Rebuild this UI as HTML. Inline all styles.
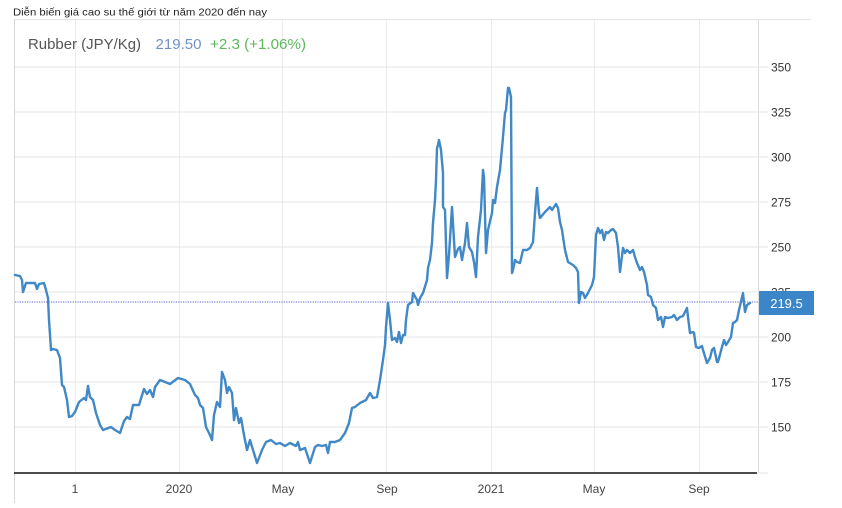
<!DOCTYPE html>
<html><head><meta charset="utf-8">
<style>
html,body{margin:0;padding:0;background:#fff;}
svg{display:block;}
text{font-family:"Liberation Sans","Noto Sans CJK SC",Arial,sans-serif;}
</style></head>
<body>
<svg width="842" height="508" viewBox="0 0 842 508" xmlns="http://www.w3.org/2000/svg">
<rect x="0" y="0" width="842" height="508" fill="#fff"/>
<text x="13" y="15.5" font-size="10.5" fill="#222" textLength="254" lengthAdjust="spacingAndGlyphs">Diễn biến giá cao su thế giới từ năm 2020 đến nay</text>

<!-- frame -->
<line x1="14" y1="19.5" x2="811" y2="19.5" stroke="#e3e3e3" stroke-width="1"/>
<line x1="14.5" y1="19.5" x2="14.5" y2="503" stroke="#d8d8d8" stroke-width="1"/>
<line x1="758.5" y1="19.5" x2="758.5" y2="473" stroke="#dedede" stroke-width="1"/>

<!-- vertical gridlines -->
<g stroke="#ececec" stroke-width="1">
<line x1="75.5" y1="20" x2="75.5" y2="472"/>
<line x1="179.5" y1="20" x2="179.5" y2="472"/>
<line x1="282.5" y1="20" x2="282.5" y2="472"/>
<line x1="386.5" y1="20" x2="386.5" y2="472"/>
<line x1="491.5" y1="20" x2="491.5" y2="472"/>
<line x1="594.5" y1="20" x2="594.5" y2="472"/>
<line x1="699.5" y1="20" x2="699.5" y2="472"/>
</g>
<!-- horizontal gridlines -->
<g stroke="#e6e6e6" stroke-width="1">
<line x1="15" y1="67" x2="768" y2="67"/>
<line x1="15" y1="112" x2="768" y2="112"/>
<line x1="15" y1="157" x2="768" y2="157"/>
<line x1="15" y1="202" x2="768" y2="202"/>
<line x1="15" y1="247" x2="768" y2="247"/>
<line x1="15" y1="292" x2="768" y2="292"/>
<line x1="15" y1="337" x2="768" y2="337"/>
<line x1="15" y1="382" x2="768" y2="382"/>
<line x1="15" y1="427" x2="768" y2="427"/>
<line x1="758" y1="473" x2="768" y2="473"/>
</g>

<!-- header -->
<text x="28" y="49" font-size="15" fill="#555" textLength="113" lengthAdjust="spacingAndGlyphs">Rubber (JPY/Kg)</text>
<text x="155.5" y="49" font-size="15" fill="#7391c8" textLength="46" lengthAdjust="spacingAndGlyphs">219.50</text>
<text x="210" y="49" font-size="15" fill="#5cb85c" textLength="96" lengthAdjust="spacingAndGlyphs">+2.3 (+1.06%)</text>

<!-- y labels -->
<g font-size="12" fill="#333">
<text x="771" y="71.3">350</text>
<text x="771" y="116.3">325</text>
<text x="771" y="161.3">300</text>
<text x="771" y="206.3">275</text>
<text x="771" y="251.3">250</text>
<text x="771" y="296.3">225</text>
<text x="771" y="341.3">200</text>
<text x="771" y="386.3">175</text>
<text x="771" y="431.3">150</text>
</g>

<!-- x labels -->
<g font-size="12" fill="#444" text-anchor="middle">
<text x="75" y="493">1</text>
<text x="179" y="493">2020</text>
<text x="283" y="493">May</text>
<text x="387" y="493">Sep</text>
<text x="491" y="493">2021</text>
<text x="594" y="493">May</text>
<text x="699" y="493">Sep</text>
</g>

<!-- axis -->
<line x1="14" y1="473" x2="757" y2="473" stroke="#111" stroke-width="1.6"/>

<!-- dotted current-value line -->
<line x1="15" y1="302" x2="758" y2="302" stroke="#5c5cc8" stroke-width="1" stroke-dasharray="1.2,1.2"/>

<!-- series -->
<polyline fill="none" stroke="#4088c6" stroke-width="2.4" stroke-linejoin="round" stroke-linecap="round" points="
15,275 20,276 22,280 23,292 26,283 30,283 35,283 37,289 39,284 44,283 46,290 48,298 49,320 51,350 53,349 57,350 60,358 62,385 64,387 67,400 69,417 72,416 75,412 79,402 84,398 86,400 88,386 90,397 93,400 96,413 100,425 103,430 111,427 115,430 120,433 124,421 127,417 130,419 133,405 139,405 144,389 147,394 150,390 153,397 155,387 160,380 165,382 170,384 174,381 178,378 185,380 190,384
195,395 198,398 200,405 203,408 206,427 210,435 212,440 214,415 217,402 220,407 222,372 225,380 227,393 229,387 232,393 234,420 236,408 239,423 241,418 244,435 247,450 250,440 253,450 257,463 262,450 266,442 271,440 276,444 280,443 285,446 290,443 296,446 298,442 300,450 305,448 310,463 315,447 318,445 322,446 326,445 328,453 330,442 335,442 340,440 345,433 349,423 352,408 355,407 360,403 366,400 370,393 373,398 377,397 380,380 383,360 385,345 386,327 388,303 390,320 392,340 395,338 397,342 399,332 401,343 403,335 405,335 406,320 408,305 412,302 413,293 417,300 418,305 420,298 423,293 427,280 428,268 430,260 432,243 433,223 435,200 436,180 437,148 438,145 439,140 441,150 443,173 443,207 445,210 447,278 449,255 452,207 455,257 458,249 460,247 462,260 465,243 467,223 469,247 472,252 474,262 476,277 478,237 481,210 483,170 484,177 486,253 488,230 492,213 493,200 495,203 497,187 500,170 503,137 505,113 506,110 508,88 509,88 511,97 512,273 513,270 515,260 517,262 520,263 523,250 527,250 530,248 533,242 535,213 537,188 539,213 540,218 545,212 550,207 552,210 556,204 558,208 560,222 562,230 565,250 568,262 573,265 576,268 578,272 579,303 581,292 583,293 585,298 588,293 592,285 594,277 596,235 598,228 600,233 602,230 604,240 606,232 608,233 611,230 613,229 616,233 618,247 620,272 623,248 625,253 627,250 630,253 633,250 635,257 637,263 640,270 642,267 644,272 647,285 648,295 651,297 653,305 656,308 658,320 661,317 663,327 665,317 668,318 672,317 674,315 677,320 680,317 683,316 687,308 688,317 690,333 693,332 694,333 696,347 699,348 702,346 703,350 707,363 710,358 712,350 714,348 717,362 718,362 722,347 724,340 726,345 728,342 731,337 733,323 735,322 737,320 739,310 743,293 745,312 747,305 750,303"/>

<!-- price box -->
<rect x="759" y="291" width="55" height="24" fill="#3a86c8"/>
<text x="786.5" y="308" font-size="13" fill="#fff" text-anchor="middle">219.5</text>
</svg>
</body></html>
